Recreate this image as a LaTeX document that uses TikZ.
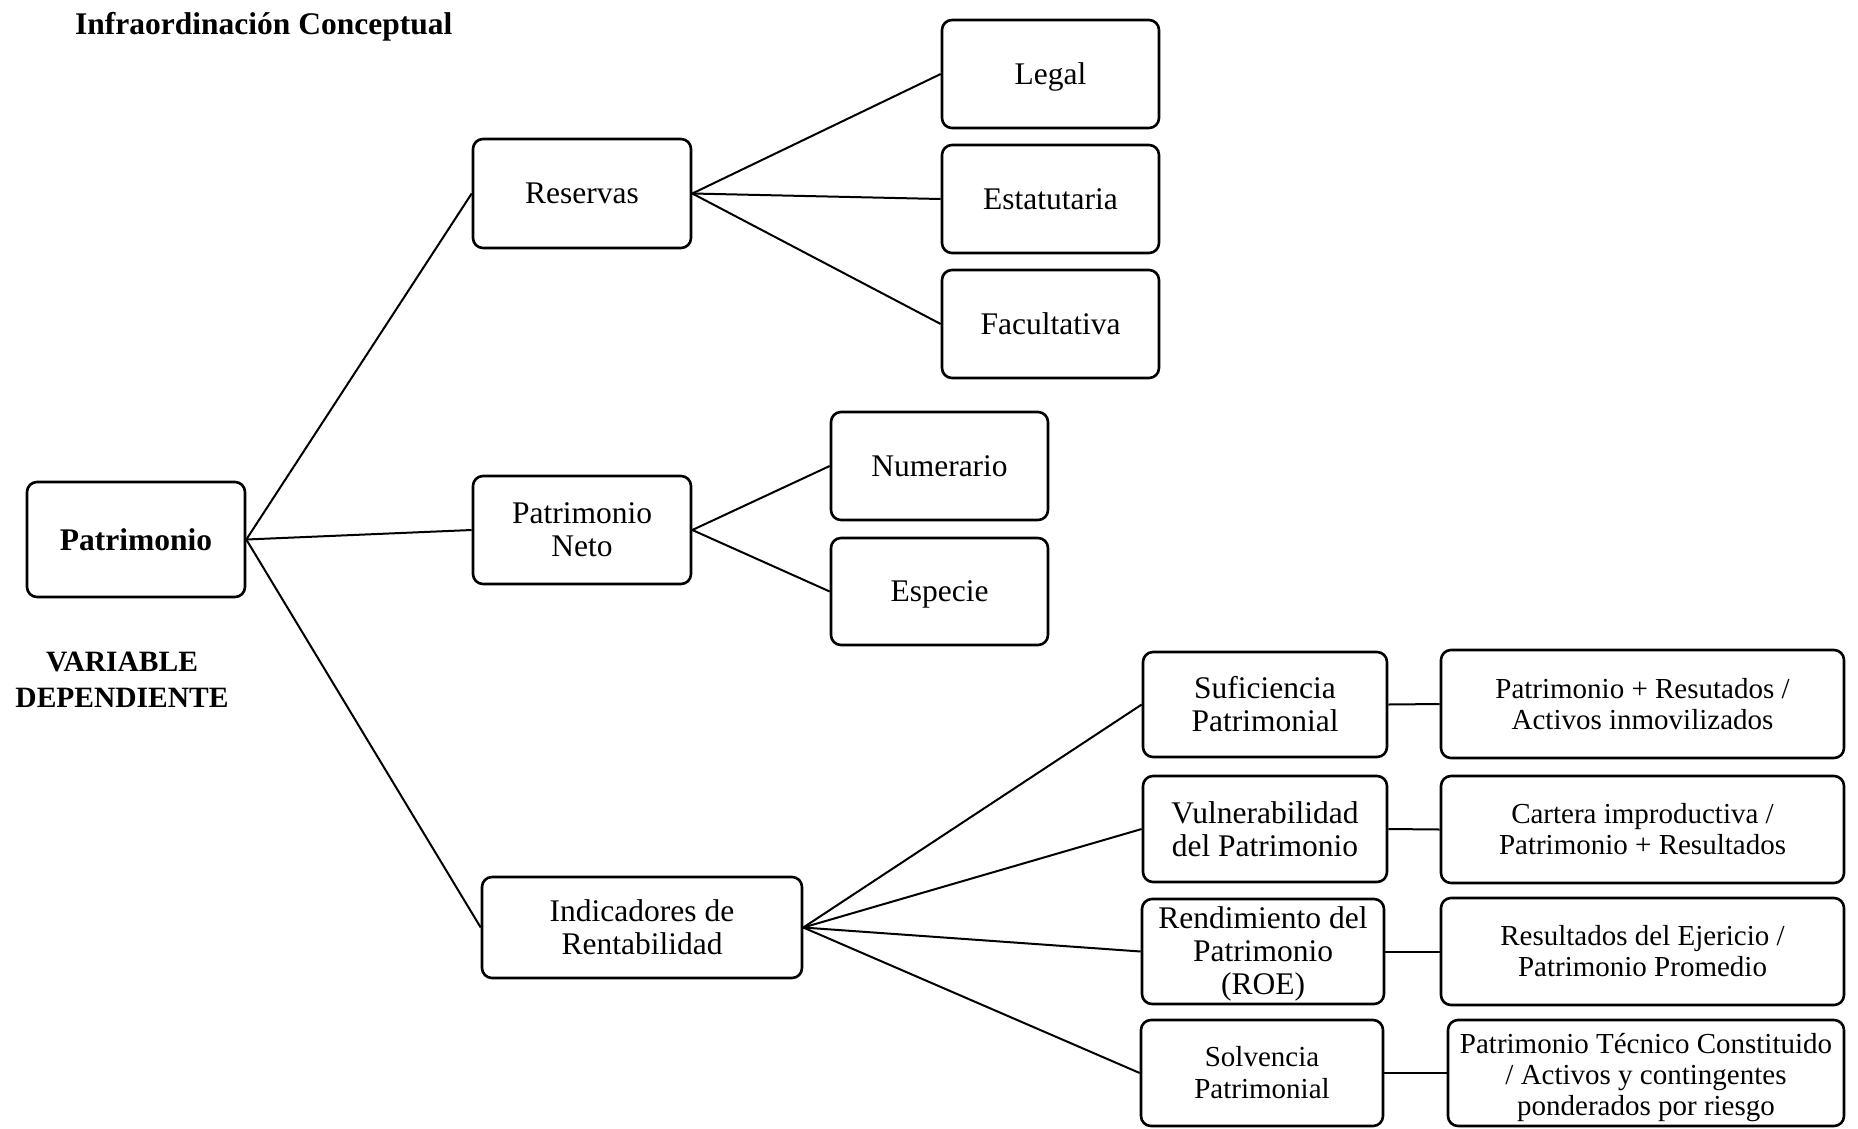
\documentclass[tikz,border=0pt]{standalone}
\usepackage{fontspec}
\setmainfont{Liberation Serif}
\begin{document}
\begin{tikzpicture}[x=1pt,y=-1pt,
  box/.style={draw, line width=2.6pt, rounded corners=10pt, align=center, inner sep=0pt,
    font=\fontsize{31.5}{33}\selectfont},
  rbox/.style={box, font=\fontsize{29}{31}\selectfont},
  link/.style={line width=2pt},
  lbl/.style={inner sep=0pt, align=center}]
\useasboundingbox (0,0) rectangle (1858,1128);

\node[lbl, anchor=base west, font=\bfseries\fontsize{31.5}{33}\selectfont] (title) at (75,34) {Infraordinación Conceptual};
\node[lbl, font=\bfseries\fontsize{29.5}{35.5}\selectfont] (var) at (122,680) {VARIABLE\\DEPENDIENTE};

\node[box, minimum width=218pt, minimum height=115pt, font=\bfseries\fontsize{31.5}{33}\selectfont] (pat) at (136,539.5) {Patrimonio};

\node[box, minimum width=218pt, minimum height=109pt] (res) at (582,193.5) {Reservas};
\node[box, minimum width=218pt, minimum height=108pt] (neto) at (582,530) {Patrimonio\\Neto};
\node[box, minimum width=320pt, minimum height=101pt] (ind) at (642,927.5) {Indicadores de\\Rentabilidad};

\node[box, minimum width=217pt, minimum height=108pt, text depth=0pt] (legal) at (1050.5,74) {Legal};
\node[box, minimum width=217pt, minimum height=108pt] (est) at (1050.5,199) {Estatutaria};
\node[box, minimum width=217pt, minimum height=108pt] (fac) at (1050.5,324) {Facultativa};

\node[box, minimum width=217pt, minimum height=108pt] (num) at (939.5,466) {Numerario};
\node[box, minimum width=217pt, minimum height=107pt, text depth=0pt] (esp) at (939.5,591.5) {Especie};

\node[box, minimum width=244pt, minimum height=105pt] (suf) at (1265,704.5) {Suficiencia\\Patrimonial};
\node[box, minimum width=244pt, minimum height=106pt] (vul) at (1265,829) {Vulnerabilidad\\del Patrimonio};
\node[box, minimum width=242pt, minimum height=105pt] (ren) at (1263,951.5) {\rule{0pt}{26.5pt}Rendimiento del\\Patrimonio\\(ROE)};
\node[box, minimum width=242pt, minimum height=106pt, font=\fontsize{29}{32}\selectfont] (sol) at (1262,1073) {Solvencia\\Patrimonial};

\node[rbox, minimum width=403pt, minimum height=108pt] (r1) at (1642.5,704) {Patrimonio + Resutados /\\Activos inmovilizados};
\node[rbox, minimum width=403pt, minimum height=107pt] (r2) at (1642.5,829.5) {Cartera improductiva /\\Patrimonio + Resultados};
\node[rbox, minimum width=403pt, minimum height=107pt] (r3) at (1642.5,951.5) {Resultados del Ejericio /\\Patrimonio Promedio};
\node[rbox, minimum width=396pt, minimum height=106pt] (r4) at (1646,1073) {\rule{0pt}{30pt}Patrimonio Técnico Constituido\\/ Activos y contingentes\\ponderados por riesgo};

\draw[link] (pat.east) -- (res.west);
\draw[link] (pat.east) -- (neto.west);
\draw[link] (pat.east) -- (ind.west);
\draw[link] (res.east) -- (legal.west);
\draw[link] (res.east) -- (est.west);
\draw[link] (res.east) -- (fac.west);
\draw[link] (neto.east) -- (num.west);
\draw[link] (neto.east) -- (esp.west);
\draw[link] (ind.east) -- (suf.west);
\draw[link] (ind.east) -- (vul.west);
\draw[link] (ind.east) -- (ren.west);
\draw[link] (ind.east) -- (sol.west);
\draw[link] (suf.east) -- (r1.west);
\draw[link] (vul.east) -- (r2.west);
\draw[link] (ren.east) -- (r3.west);
\draw[link] (sol.east) -- (r4.west);
\end{tikzpicture}
\end{document}
